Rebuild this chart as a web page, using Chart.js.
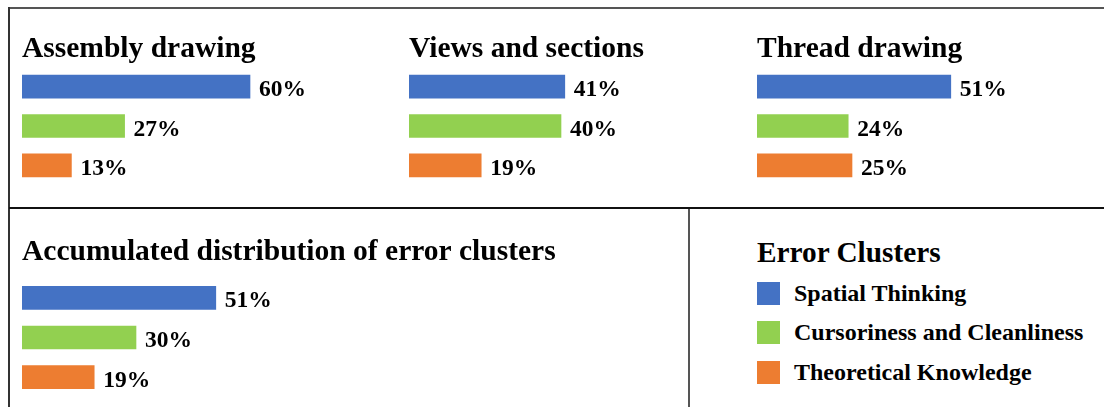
<!DOCTYPE html>
<html>
<head>
<meta charset="utf-8">
<script src="https://cdn.jsdelivr.net/npm/chart.js@4.4.1/dist/chart.umd.min.js"></script>
<style>
  body { margin: 0; background: #fff; width: 1104px; height: 407px; overflow: hidden; position: relative; font-family: "Liberation Serif", "Times New Roman", serif; }
  canvas { position: absolute; }
  .line { position: absolute; }
  #legend { position: absolute; left: 757px; top: 235px; font-weight: bold; color: #000; }
  #legend .title { font-size: 29.3px; line-height: 34px; white-space: nowrap; }
  .item { position: absolute; left: 0; height: 23px; display: flex; align-items: center; white-space: nowrap; }
  .swatch { width: 23px; height: 23px; margin-right: 14px; }
  .item span { font-size: 24px; line-height: 23px; }
</style>
</head>
<body>
<div class="line" style="left:9px;top:7px;width:1095px;height:2px;background:#555"></div>
<div class="line" style="left:8px;top:7px;width:2px;height:400px;background:#333"></div>
<div class="line" style="left:9px;top:207px;width:1095px;height:2px;background:#111"></div>
<div class="line" style="left:688px;top:209px;width:2px;height:198px;background:#555"></div>

<canvas id="assembly" width="342" height="175" style="left:22px;top:10px"></canvas>
<canvas id="views" width="342" height="175" style="left:409px;top:10px"></canvas>
<canvas id="thread" width="342" height="175" style="left:757px;top:10px"></canvas>
<canvas id="accumulated" width="560" height="184" style="left:22px;top:213px"></canvas>

<div id="legend"><div class="title">Error Clusters</div></div>

<script>
const clusters = ["Spatial Thinking", "Cursoriness and Cleanliness", "Theoretical Knowledge"];
const clusterColors = ["#4472C4", "#92D050", "#ED7D31"];

const assemblyDrawing = [60, 27, 13];
const viewsAndSections = [41, 40, 19];
const threadDrawing = [51, 24, 25];
const accumulatedDistribution = [51, 30, 19];

const fontFamily = '"Liberation Serif", "Times New Roman", serif';

// draws "NN%" just past the end of every bar
const valueLabels = {
  id: "valueLabels",
  afterDatasetsDraw(chart) {
    const ctx = chart.ctx;
    ctx.save();
    ctx.font = "bold 23.5px " + fontFamily;
    ctx.fillStyle = "#000";
    ctx.textAlign = "left";
    ctx.textBaseline = "alphabetic";
    chart.getDatasetMeta(0).data.forEach((bar, i) => {
      const v = chart.data.datasets[0].data[i];
      ctx.fillText(v + "%", bar.x + 9, bar.y + 9.5);
    });
    ctx.restore();
  },
};

function makePanel(id, title, values, xMax, titleSize, titlePadBottom) {
  const ctx = document.getElementById(id);
  return new Chart(ctx, {
    type: "bar",
    data: {
      labels: clusters,
      datasets: [
        {
          label: title,
          data: values,
          backgroundColor: clusterColors,
          barThickness: 23,
        },
      ],
    },
    options: {
      indexAxis: "y",
      responsive: false,
      animation: false,
      devicePixelRatio: 1,
      layout: { padding: 0 },
      scales: {
        x: { display: false, min: 0, max: xMax },
        y: { display: false },
      },
      plugins: {
        legend: { display: false },
        tooltip: { enabled: false },
        title: {
          display: true,
          text: title,
          align: "start",
          color: "#000",
          font: { family: fontFamily, size: titleSize, weight: "bold", lineHeight: 36 / titleSize },
          padding: { top: 21, bottom: titlePadBottom },
        },
      },
    },
    plugins: [valueLabels],
  });
}

makePanel("assembly", "Assembly drawing", assemblyDrawing, 90, 29.5, 0);
makePanel("views", "Views and sections", viewsAndSections, 90, 29.5, 0);
makePanel("thread", "Thread drawing", threadDrawing, 90, 29.5, 0);
makePanel("accumulated", "Accumulated distribution of error clusters", accumulatedDistribution, 560 / 3.8, 29.5, 8);

// legend on the lower right
const legend = document.getElementById("legend");
const swatchTops = [47, 86, 126];
clusters.forEach((name, i) => {
  const row = document.createElement("div");
  row.className = "item";
  row.style.top = swatchTops[i] + "px";
  const sw = document.createElement("div");
  sw.className = "swatch";
  sw.style.background = clusterColors[i];
  const label = document.createElement("span");
  label.textContent = name;
  row.appendChild(sw);
  row.appendChild(label);
  legend.appendChild(row);
});
</script>
</body>
</html>
